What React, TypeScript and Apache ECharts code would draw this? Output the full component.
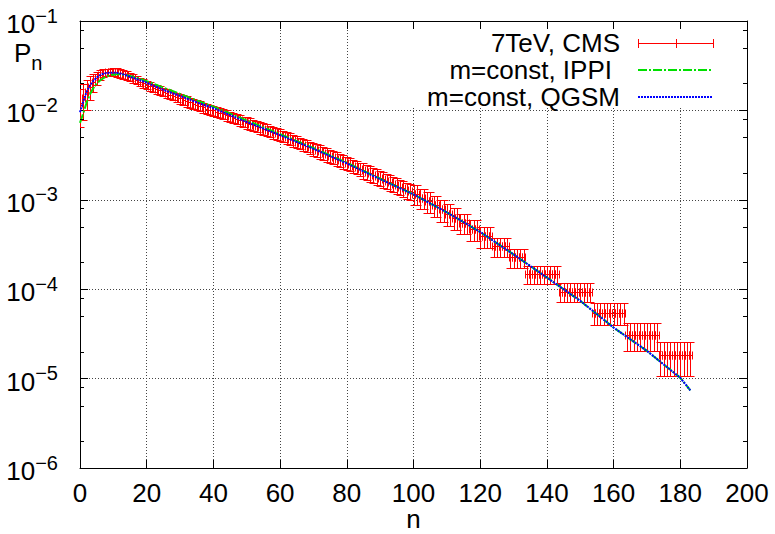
import React, { useEffect, useRef } from "react";
import * as echarts from "echarts";

const FONT = "'Liberation Sans', Arial, Helvetica, sans-serif";

// Axis settings
const xMin = 0;
const xMax = 200;
const xStep = 20;
const yMin = 1e-6;
const yMax = 1e-1;
const yMinorMultipliers = [2, 5, 8];

// Legend labels
const legendLabels = ["7TeV, CMS", "m=const, IPPI", "m=const, QGSM"];

// CMS 7 TeV data, P_n for n = 0..99
const cmsValues = [
  0.012, 0.0138, 0.016, 0.0185, 0.021, 0.0232, 0.025, 0.0262, 0.0268, 0.027,
  0.027, 0.0267, 0.0262, 0.0254, 0.0246, 0.0237, 0.0228, 0.0219, 0.021, 0.0202,
  0.0194, 0.0187, 0.018, 0.0173, 0.0167, 0.0161, 0.0155, 0.015, 0.0145, 0.014,
  0.0136, 0.0131, 0.0127, 0.0123, 0.0119, 0.0115, 0.0112, 0.0108, 0.0105, 0.0102,
  0.01, 0.00969, 0.0094, 0.00911, 0.00883, 0.00855, 0.00829, 0.00803, 0.00779, 0.00755,
  0.00731, 0.00709, 0.00687, 0.00666, 0.00645, 0.00625, 0.00606, 0.00587, 0.00569, 0.00552,
  0.00535, 0.00516, 0.00498, 0.0048, 0.00463, 0.00447, 0.00431, 0.00415, 0.00401, 0.00386,
  0.00373, 0.00359, 0.00347, 0.00334, 0.00322, 0.00311, 0.003, 0.00289, 0.00279, 0.00269,
  0.0026, 0.0025, 0.00241, 0.00232, 0.00223, 0.00214, 0.00206, 0.00198, 0.00191, 0.00184,
  0.00177, 0.0017, 0.00163, 0.00157, 0.00151, 0.00145, 0.0014, 0.00134, 0.00129, 0.00124,
];
// absolute errors for n = 0..9
const cmsLowErr = [0.0055, 0.006, 0.006, 0.0055, 0.0048, 0.004, 0.0033, 0.0028, 0.0025, 0.0024];
// relative errors [fromN, toN, fraction] for n = 10..99
const cmsRelErr: [number, number, number][] = [
  [10, 29, 0.11],
  [30, 49, 0.13],
  [50, 69, 0.15],
  [70, 84, 0.17],
  [85, 99, 0.2],
];
// wide bins at high n: [fromN, toN, value, error]
const cmsBins: [number, number, number, number][] = [
  [100, 101, 0.00117, 0.00029],
  [102, 103, 0.00106, 0.00027],
  [104, 105, 0.00096, 0.00025],
  [106, 107, 0.00087, 0.00023],
  [108, 109, 0.00078, 0.00021],
  [110, 111, 0.0007, 0.00019],
  [112, 113, 0.00063, 0.00017],
  [114, 116, 0.00055, 0.00014],
  [117, 119, 0.00047, 0.00012],
  [120, 123, 0.00039, 0.0001],
  [124, 128, 0.000303, 0.000072],
  [129, 133, 0.000228, 0.000054],
  [134, 143, 0.0001485, 0.0000345],
  [144, 153, 0.0000938, 0.0000222],
  [154, 163, 0.0000545, 0.000015],
  [164, 173, 0.0000308, 0.0000106],
  [174, 183, 0.0000182, 0.0000076],
];

// Model curves
const qgsmN = [0, 1, 2, 3, 4, 5, 6, 7, 8, 9, 10, 11, 12, 13, 14, 16, 18, 20, 22, 25, 30, 35, 40, 50, 60, 70, 80, 90, 100, 110, 120, 130, 140, 150, 160, 170, 180, 183];
const qgsmP = [0.00955, 0.01259, 0.01622, 0.01905, 0.02138, 0.02333, 0.02483, 0.0257, 0.02618, 0.02642, 0.02642, 0.0263, 0.02588, 0.0253, 0.02455, 0.02307, 0.02173, 0.02042, 0.01892, 0.01698, 0.01452, 0.0123, 0.01059, 0.00741, 0.00528, 0.00372, 0.00255, 0.0017, 0.00115, 0.000724, 0.000437, 0.000245, 0.000135, 0.0000741, 0.0000372, 0.0000204, 0.0000102, 0.0000074];
const ippiN = [0, 1, 2, 3, 4, 5, 6, 7, 8, 9, 10, 11, 12, 13, 14, 16, 18, 20, 22, 25, 30, 35, 40, 50, 60, 70, 80, 90, 100, 110, 120, 130, 140, 150, 160, 170, 180, 183];
const ippiP = [0.00724, 0.00933, 0.0123, 0.01514, 0.01778, 0.01995, 0.02163, 0.02291, 0.02399, 0.02472, 0.02512, 0.0253, 0.0253, 0.02512, 0.02477, 0.02377, 0.0226, 0.02128, 0.01995, 0.01799, 0.01531, 0.01294, 0.01102, 0.00773, 0.00543, 0.0038, 0.0026, 0.00172, 0.00115, 0.000724, 0.000437, 0.000245, 0.000135, 0.0000741, 0.0000372, 0.0000204, 0.0000102, 0.0000074];

const RED = "#ff0000";
const GREEN = "#00e000";
const BLUE = "#0000ff";

function buildCms(): number[][] {
  const pts: number[][] = [];
  cmsValues.forEach((v, n) => {
    let err = 0;
    if (n < cmsLowErr.length) err = cmsLowErr[n];
    else {
      const r = cmsRelErr.find((q) => n >= q[0] && n <= q[1]);
      err = v * (r ? r[2] : 0.1);
    }
    pts.push([n, v, err]);
  });
  cmsBins.forEach(([a, b, v, e]) => {
    for (let n = a; n <= b; n++) pts.push([n, v, e]);
  });
  return pts;
}

function minorTicks(): number[][] {
  const out: number[][] = [];
  for (let e = -6; e < -1; e++) {
    yMinorMultipliers.forEach((m) => out.push([0, m * Math.pow(10, e)]));
  }
  return out;
}

const snap = (v: number) => Math.round(v) + 0.5;

export default function App() {
  const ref = useRef<HTMLDivElement>(null);
  useEffect(() => {
    if (!ref.current) return;
    const chart = echarts.init(ref.current, undefined, { renderer: "svg" });
    const cms = buildCms();
    const axisLineStyle = { color: "#000", width: 1 };
    const option: any = {
      animation: false,
      backgroundColor: "#fff",
      grid: { left: 80, right: 28, top: 21, bottom: 66, containLabel: false, outerBoundsMode: "none" },
      xAxis: [
        {
          type: "value",
          min: xMin,
          max: xMax,
          interval: xStep,
          position: "bottom",
          z: 0,
          axisLine: { show: true, onZero: false, lineStyle: axisLineStyle },
          axisTick: { show: true, inside: true, length: 8, lineStyle: axisLineStyle },
          axisLabel: { show: true, fontSize: 26, fontFamily: FONT, color: "#000", margin: 14, lineHeight: 22 },
          splitLine: { show: true, lineStyle: { color: "#444", width: 1, type: [1, 2] } },
          name: "n",
          nameLocation: "middle",
          nameGap: 40,
          nameMoveOverlap: false,
          nameTextStyle: { fontSize: 26, fontFamily: FONT, color: "#000", lineHeight: 22 },
        },
        {
          type: "value",
          min: xMin,
          max: xMax,
          interval: xStep,
          position: "top",
          z: 5,
          axisLine: { show: true, onZero: false, lineStyle: axisLineStyle },
          axisTick: { show: true, inside: true, length: 8, lineStyle: axisLineStyle },
          axisLabel: { show: false },
          splitLine: { show: false },
        },
      ],
      yAxis: [
        {
          type: "log",
          logBase: 10,
          min: yMin,
          max: yMax,
          position: "left",
          z: 0,
          axisLine: { show: true, onZero: false, lineStyle: axisLineStyle },
          axisTick: { show: true, inside: true, length: 8, lineStyle: axisLineStyle },
          axisLabel: {
            show: true,
            margin: 22,
            formatter: (v: number) => {
              const e = Math.round(Math.log10(v));
              return `{b|10}{s|\u2212${Math.abs(e)}}`;
            },
            rich: {
              b: { fontSize: 26, fontFamily: FONT, color: "#000", verticalAlign: "middle", padding: [6, 0, 0, 0] },
              s: { fontSize: 20, fontFamily: FONT, color: "#000", verticalAlign: "middle", padding: [0, 0, 11, 0] },
            },
          },
          splitLine: { show: true, lineStyle: { color: "#444", width: 1, type: [1, 2] } },
        },
        {
          type: "log",
          logBase: 10,
          min: yMin,
          max: yMax,
          position: "right",
          z: 5,
          axisLine: { show: true, onZero: false, lineStyle: axisLineStyle },
          axisTick: { show: true, inside: true, length: 8, lineStyle: axisLineStyle },
          axisLabel: { show: false },
          splitLine: { show: false },
        },
      ],
      graphic: [
        // opaque key background
        { type: "rect", z: 1, shape: { x: 402, y: 22, width: 343, height: 86 }, style: { fill: "#fff" } },
        // P_n
        {
          type: "text",
          z: 10,
          x: 14,
          y: 40,
          style: {
            text: "{p|P}{s|n}",
            rich: {
              p: { fontSize: 26, fontFamily: FONT, fill: "#000", padding: [0, 0, 10, 0] },
              s: { fontSize: 20, fontFamily: FONT, fill: "#000", padding: [10, 0, 0, 0] },
            },
          },
        },
        // key texts
        { type: "text", z: 10, x: 620, y: 43, style: { text: legendLabels[0], align: "right", verticalAlign: "middle", fontSize: 26, fontFamily: FONT, fill: "#000" } },
        { type: "text", z: 10, x: 612, y: 70, style: { text: legendLabels[1], align: "right", verticalAlign: "middle", fontSize: 26, fontFamily: FONT, fill: "#000" } },
        { type: "text", z: 10, x: 620, y: 97, style: { text: legendLabels[2], align: "right", verticalAlign: "middle", fontSize: 26, fontFamily: FONT, fill: "#000" } },
        // key samples
        { type: "line", z: 10, shape: { x1: 638, y1: 43.5, x2: 713, y2: 43.5 }, style: { stroke: RED, lineWidth: 1 } },
        { type: "line", z: 10, shape: { x1: 638.5, y1: 39, x2: 638.5, y2: 48 }, style: { stroke: RED, lineWidth: 1 } },
        { type: "line", z: 10, shape: { x1: 676.5, y1: 39, x2: 676.5, y2: 48 }, style: { stroke: RED, lineWidth: 1 } },
        { type: "line", z: 10, shape: { x1: 713.5, y1: 39, x2: 713.5, y2: 48 }, style: { stroke: RED, lineWidth: 1 } },
        { type: "line", z: 10, shape: { x1: 638, y1: 70, x2: 713, y2: 70 }, style: { stroke: GREEN, lineWidth: 2, lineDash: [9, 2, 2, 2] } },
        { type: "line", z: 10, shape: { x1: 638, y1: 97, x2: 713, y2: 97 }, style: { stroke: BLUE, lineWidth: 2, lineDash: [2, 1] } },
      ],
      series: [
        {
          name: "7TeV, CMS",
          type: "custom",
          xAxisIndex: 0,
          yAxisIndex: 0,
          clip: true,
          z: 2,
          encode: { x: 0, y: 1 },
          data: cms,
          renderItem: (params: any, api: any) => {
            const n = api.value(0);
            const v = api.value(1);
            const e = api.value(2);
            const c = api.coord([n, v]);
            const top = api.coord([n, v + e]);
            const bot = api.coord([n, Math.max(v - e, 1e-9)]);
            const l = api.coord([n - 0.5, v]);
            const r = api.coord([n + 0.5, v]);
            const cap = 4;
            const cx = snap(c[0]);
            const cy = snap(c[1]);
            const ty = snap(top[1]);
            const by = snap(bot[1]);
            const lx = snap(l[0]);
            const rx = snap(r[0]);
            const style = { stroke: RED, lineWidth: 1, fill: null };
            return {
              type: "group",
              children: [
                { type: "line", shape: { x1: cx, y1: ty, x2: cx, y2: by }, style },
                { type: "line", shape: { x1: cx - cap, y1: ty, x2: cx + cap, y2: ty }, style },
                { type: "line", shape: { x1: cx - cap, y1: by, x2: cx + cap, y2: by }, style },
                { type: "line", shape: { x1: lx, y1: cy, x2: rx, y2: cy }, style },
                { type: "line", shape: { x1: lx, y1: cy - cap, x2: lx, y2: cy + cap }, style },
                { type: "line", shape: { x1: rx, y1: cy - cap, x2: rx, y2: cy + cap }, style },
              ],
            };
          },
        },
        {
          name: "m=const, IPPI",
          type: "line",
          z: 3,
          symbol: "none",
          data: ippiN.map((n, i) => [n, ippiP[i]]),
          lineStyle: { color: GREEN, width: 2, type: [9, 2, 2, 2] },
        },
        {
          name: "m=const, QGSM",
          type: "line",
          z: 4,
          symbol: "none",
          data: qgsmN.map((n, i) => [n, qgsmP[i]]),
          lineStyle: { color: BLUE, width: 2, type: [2, 1] },
        },
        {
          name: "minor ticks",
          type: "custom",
          z: 6,
          clip: false,
          silent: true,
          encode: { x: 0, y: 1 },
          data: minorTicks(),
          renderItem: (params: any, api: any) => {
            const y = snap(api.coord([0, api.value(1)])[1]);
            const cs = params.coordSys;
            const style = { stroke: "#000", lineWidth: 1 };
            return {
              type: "group",
              children: [
                { type: "line", shape: { x1: cs.x, y1: y, x2: cs.x + 4, y2: y }, style },
                { type: "line", shape: { x1: cs.x + cs.width - 4, y1: y, x2: cs.x + cs.width, y2: y }, style },
              ],
            };
          },
        },
      ],
    };
    chart.setOption(option);
    return () => chart.dispose();
  }, []);
  return (
    <div
      ref={ref}
      style={{ position: "absolute", left: 0, top: 0, width: 775, height: 534, background: "#fff" }}
    />
  );
}
